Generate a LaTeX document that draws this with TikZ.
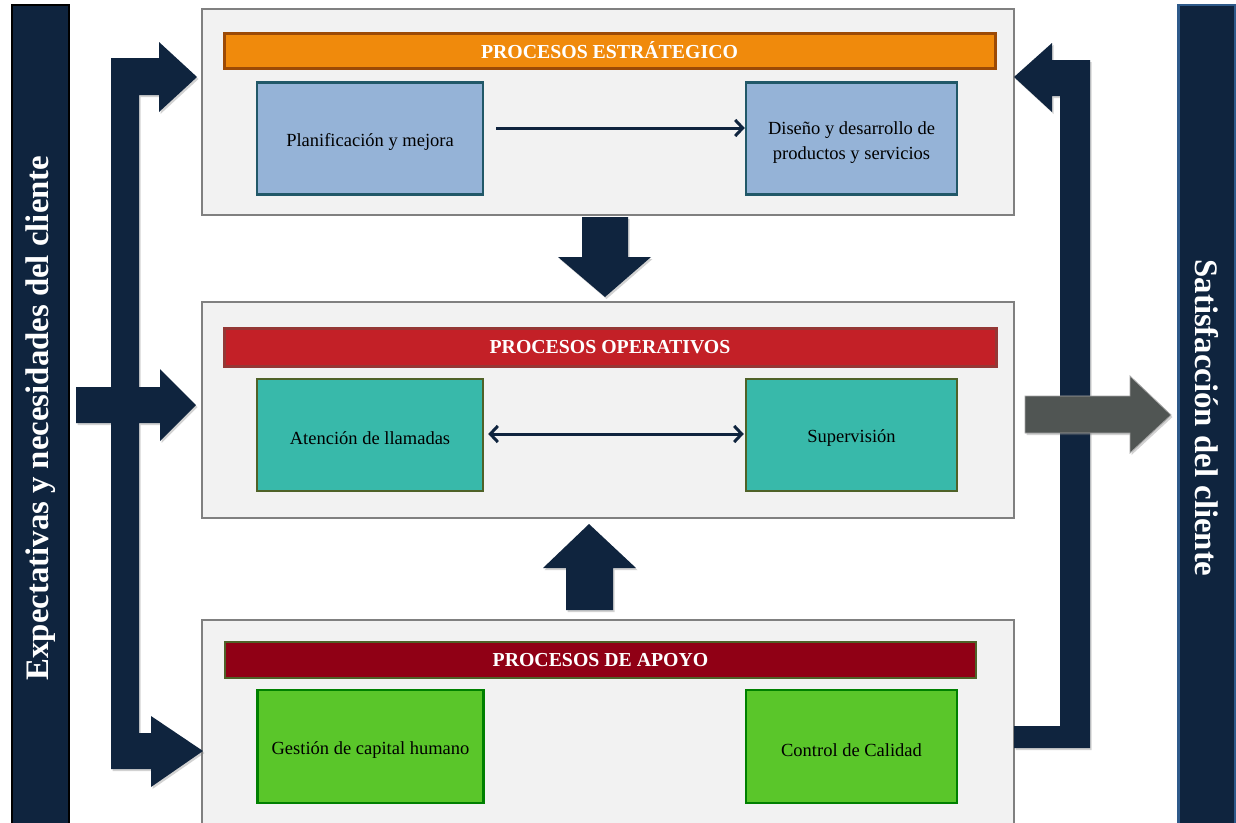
\documentclass[tikz,border=0pt]{standalone}
\usepackage{fontspec}
\setmainfont{Liberation Serif}
\usetikzlibrary{arrows.meta,shadows}
\definecolor{navy}{HTML}{0F243E}
\definecolor{panelfill}{HTML}{F2F2F2}
\definecolor{panelline}{HTML}{808080}
\definecolor{orangeh}{HTML}{F08A0C}
\definecolor{orangeb}{HTML}{9C4A06}
\definecolor{redh}{HTML}{C32027}
\definecolor{redb}{HTML}{953735}
\definecolor{dredh}{HTML}{900015}
\definecolor{olive}{HTML}{4F6228}
\definecolor{bluef}{HTML}{95B3D7}
\definecolor{blueb}{HTML}{215868}
\definecolor{tealf}{HTML}{38B9AA}
\definecolor{greenf}{HTML}{5AC62A}
\definecolor{greenb}{HTML}{008000}
\definecolor{grayarrow}{HTML}{505553}
\definecolor{sidebord}{HTML}{2E5A8A}
\newcommand{\lowr}[1]{\raisebox{-3.5pt}[\height][\depth]{#1}}
\tikzset{
  panel/.style={draw=panelline, line width=2.5pt, fill=panelfill},
  header/.style={draw, line width=3pt, inner sep=0pt, text=white,
    font=\fontsize{19.8}{22}\selectfont\bfseries},
  procbox/.style={draw, line width=2.5pt, inner sep=0pt, align=center,
    minimum height=112pt, font=\fontsize{18.5}{25}\selectfont},
  blockarrow/.style={fill=navy, draw=none,
    drop shadow={opacity=0.35, shadow xshift=1.5pt, shadow yshift=-2pt}},
  link/.style={draw=navy, line width=3pt},
  mybarb/.tip={Straight Barb[length=7.5pt,width=16pt,line width=3pt]},
  sidebar/.style={line width=2.5pt, fill=navy, inner sep=0pt},
  sidetext/.style={text=white, font=\fontsize{32.8}{36}\selectfont\bfseries}
}
\begin{document}
\begin{tikzpicture}[x=1pt,y=-1pt]
\clip (0,0) rectangle (1236,822);
\fill[white] (0,0) rectangle (1236,822);

% side bars
\node[sidebar, draw=black, minimum width=57pt, minimum height=830pt] (lbar) at (40.5,420) {};
\node[sidetext, rotate=90] (ltext) at (40.5,418) {Expectativas y necesidades del cliente};
\node[sidebar, draw=sidebord, minimum width=57pt, minimum height=830pt] (rbar) at (1207,420) {};
\node[sidetext, rotate=-90] (rtext) at (1207,418) {Satisfacción del cliente};

% panels
\node[panel, minimum width=812pt, minimum height=206pt, inner sep=0pt] (pstrat) at (608,112) {};
\node[panel, minimum width=812pt, minimum height=216pt, inner sep=0pt] (poper) at (608,410) {};
\node[panel, minimum width=812pt, minimum height=230pt, inner sep=0pt] (papoyo) at (608,735) {};

% headers
\node[header, draw=orangeb, fill=orangeh, minimum width=771pt, minimum height=35pt] (h1) at (609.5,50.5) {PROCESOS ESTRÁTEGICO};
\node[header, draw=redb, fill=redh, minimum width=772pt, minimum height=38pt] (h2) at (610,347) {PROCESOS OPERATIVOS};
\node[header, draw=olive, fill=dredh, minimum width=751pt, minimum height=36pt, line width=2pt] (h3) at (600.5,660) {PROCESOS DE APOYO};

% process boxes
\node[procbox, draw=blueb, fill=bluef, minimum width=226pt] (plan) at (370,138.5) {\lowr{Planificación y mejora}};
\node[procbox, draw=blueb, fill=bluef, minimum width=211pt] (dis) at (851.5,138.5) {\lowr{\begin{tabular}{@{}c@{}}Diseño y desarrollo de\\[0pt]productos y servicios\end{tabular}}};
\node[procbox, draw=olive, fill=tealf, minimum width=226pt] (aten) at (370,435) {\lowr{Atención de llamadas}};
\node[procbox, draw=olive, fill=tealf, minimum width=211pt] (sup) at (851.5,435) {\lowr{Supervisión}};
\node[procbox, draw=greenb, fill=greenf, minimum width=226pt, minimum height=113pt] (gest) at (370.5,746.5) {\lowr{Gestión de capital humano}};
\node[procbox, draw=greenb, fill=greenf, minimum width=211pt, minimum height=113pt] (ctrl) at (851.5,746.5) {\lowr{Control de Calidad}};

% thin connectors
\draw[link, -{mybarb}, shorten <=12pt] (plan.east |- 0,128) -- (dis.west |- 0,128);
\draw[link, {mybarb}-{mybarb}, shorten <=4pt, shorten >=1pt] (aten.east |- 0,434) -- (sup.west |- 0,434);

% big block arrows
\path[blockarrow] (111,58) -- (159,58) -- (159,42) -- (197,77) -- (159,112) -- (159,95)
  -- (139,95) -- (139,387) -- (160,387) -- (160,369) -- (196,405) -- (160,441) -- (160,423)
  -- (139,423) -- (139,733) -- (151,733) -- (151,716) -- (203,751) -- (151,787) -- (151,769)
  -- (111,769) -- (111,423) -- (76,423) -- (76,387) -- (111,387) -- cycle;
\path[blockarrow] (1090,60) -- (1052,60) -- (1052,43) -- (1014,77) -- (1052,112) -- (1052,96)
  -- (1060,96) -- (1060,726) -- (1014,726) -- (1014,748) -- (1090,748) -- cycle;
\path[blockarrow] (582,217) -- (628,217) -- (628,257) -- (651,257) -- (605,297) -- (558,257) -- (582,257) -- cycle;
\path[blockarrow] (589,524) -- (636,568) -- (613,568) -- (613,610) -- (566,610) -- (566,568) -- (543,568) -- cycle;
\path[blockarrow, fill=grayarrow, draw=gray!70, line width=0.8pt] (1025,396) -- (1130,396) -- (1130,376) -- (1171,415) -- (1130,453) -- (1130,433) -- (1025,433) -- cycle;
\end{tikzpicture}
\end{document}
